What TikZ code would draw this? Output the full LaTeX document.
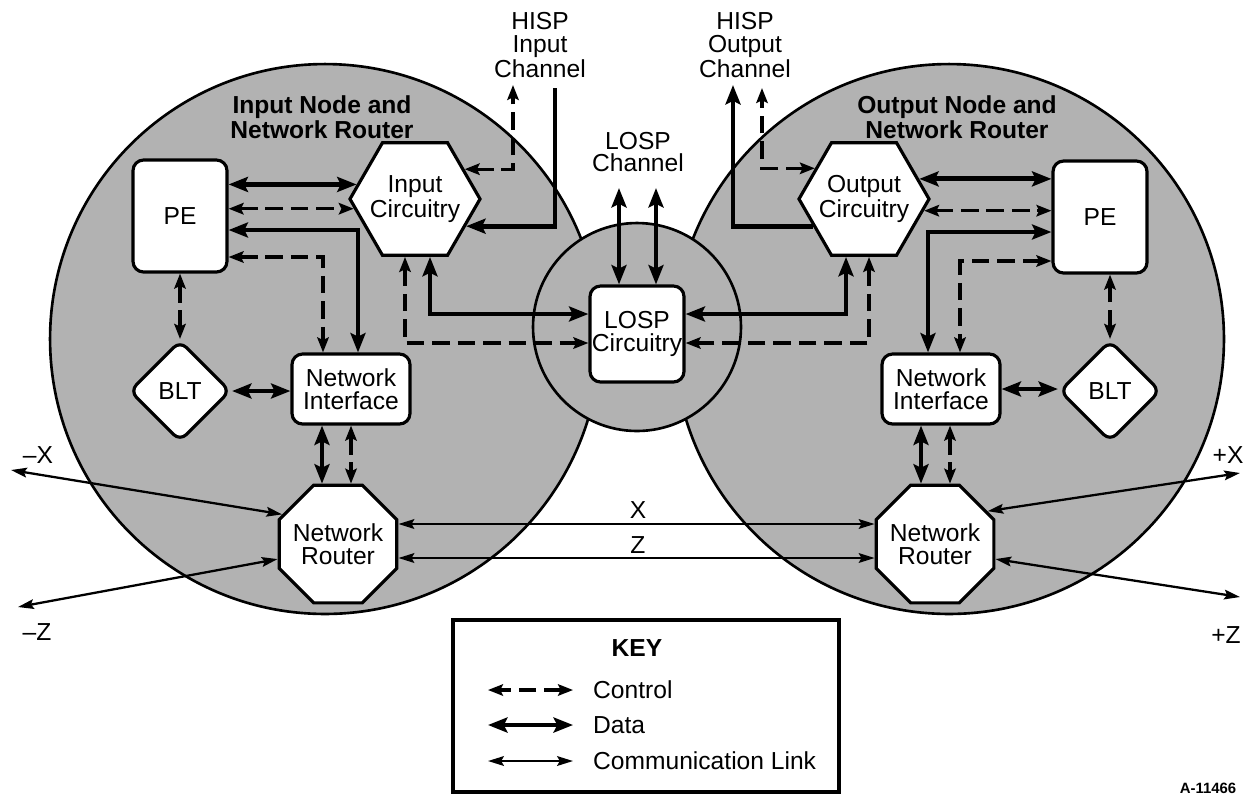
\documentclass[tikz,border=0pt]{standalone}
\usepackage{fontspec}
\setmainfont{Liberation Sans}
\usetikzlibrary{arrows.meta,calc,shapes.geometric}

\begin{document}
\begin{tikzpicture}[x=0.02cm, y=-0.02cm,
  every node/.style={font=\fontsize{14}{13}\selectfont, align=center},
  blk/.style={draw, fill=white, line width=1.8pt, inner sep=0pt},
  rbox/.style={blk, rectangle, rounded corners=6pt},
  pebox/.style={rbox, minimum width=1.88cm, minimum height=2.24cm},
  nibox/.style={rbox, minimum width=2.36cm, minimum height=1.4cm},
  hexbox/.style={blk, regular polygon, regular polygon sides=6, minimum size=2.3cm, inner sep=-3pt},
  octbox/.style={blk, regular polygon, regular polygon sides=8, minimum size=2.36cm, inner sep=-2pt},
  dmdbox/.style={blk, diamond, minimum size=2.02cm, rounded corners=5pt},
  zone/.style={draw, circle, line width=1.5pt, fill=black!30, inner sep=0pt},
  ttl/.style={font=\bfseries\fontsize{14}{14}\selectfont},
  datapath/.style={<->, >={Stealth[length=11pt,width=8.5pt,inset=2pt]}, line width=2.8pt},
  ctrlpath/.style={<->, >={Stealth[length=8.5pt,width=6.5pt,inset=1.5pt]}, line width=1.9pt, dash pattern=on 10pt off 4.5pt},
  commpath/.style={<->, >={Stealth[length=9pt,width=5.5pt,inset=1.5pt]}, line width=1.3pt}
]
\useasboundingbox (0,0) rectangle (1243,796);

% node areas
\node[zone, minimum size=11cm] (zoneL) at (325,339) {};
\node[zone, minimum size=11cm] (zoneR) at (949,339) {};
\node[zone, minimum size=4.16cm] (zoneC) at (637,327) {};

\node[ttl] (ttlL) at (322,117) {Input Node and\\Network Router};
\node[ttl] (ttlR) at (957,117) {Output Node and\\Network Router};

% input node
\node[pebox] (peL) at (180,216) {PE};
\node[hexbox] (incL) at (415,199) {Input\\Circuitry};
\node[dmdbox] (bltL) at (180,391) {BLT};
\node[nibox] (niL) at (351,389) {Network\\Interface};
\node[octbox] (nrL) at (338,544) {Network\\Router};

\node[rbox, minimum width=1.88cm, minimum height=1.92cm] (losp) at (637,334) {LOSP\\Circuitry};

% output node
\node[hexbox] (outR) at (864,199) {Output\\Circuitry};
\node[pebox] (peR) at (1100,217) {PE};
\node[dmdbox] (bltR) at (1110,391) {BLT};
\node[nibox] (niR) at (941,389) {Network\\Interface};
\node[octbox] (nrR) at (935,544) {Network\\Router};

% channels
\node (hispin) at (540,45) {HISP\\Input\\Channel};
\node (hispout) at (745,45) {HISP\\Output\\Channel};
\node (lospch) at (638,152) {LOSP\\Channel};
\coordinate (hinC) at (513,85);
\coordinate (hinD) at (555,88);
\coordinate (houtD) at (733,85);
\coordinate (houtC) at (762,88);
\coordinate (lospC) at (638,188);

\draw[ctrlpath] (incL.31) -| (hinC);
\draw[datapath, ->] (hinD) |- (incL.332);
\draw[datapath, ->] (outR.208) -| (houtD);
\draw[ctrlpath] (outR.148) -| (houtC);
\draw[datapath] ([xshift=-0.36cm]losp.north) -- ([xshift=-0.36cm]losp.north |- lospC);
\draw[datapath] ([xshift=0.38cm]losp.north) -- ([xshift=0.38cm]losp.north |- lospC);

% input node links
\draw[datapath] (peL.east |- incL.166) -- (incL.166);
\draw[ctrlpath] (peL.east |- incL.189) -- (incL.189);
\draw[datapath] ([yshift=-0.28cm]peL.east) -| ([xshift=0.14cm]niL.north);
\draw[ctrlpath] ([yshift=-0.82cm]peL.east) -| ([xshift=-0.56cm]niL.north);
\draw[ctrlpath] (peL.south) -- (bltL.north);
\draw[datapath] (bltL.east) -- (bltL.east -| niL.west);
\draw[datapath] ([xshift=-0.58cm]niL.south) -- ([xshift=-0.58cm]niL.south |- nrL.north);
\draw[ctrlpath] (niL.south) -- (niL.south |- nrL.north);
\draw[datapath] ([xshift=0.3cm]incL.south) |- ([yshift=0.4cm]losp.west);
\draw[ctrlpath] ([xshift=-0.2cm]incL.south) |- ([yshift=-0.18cm]losp.west);

% output node links
\draw[datapath] (outR.20) -- (outR.20 -| peR.west);
\draw[ctrlpath] (outR.349) -- (outR.349 -| peR.west);
\draw[datapath] ([yshift=-0.3cm]peR.west) -| ([xshift=-0.26cm]niR.north);
\draw[ctrlpath] ([yshift=-0.88cm]peR.west) -| ([xshift=0.38cm]niR.north);
\draw[ctrlpath] (bltR.north) -- (bltR.north |- peR.south);
\draw[datapath] (niR.east) -- (niR.east -| bltR.west);
\draw[datapath] ([xshift=-0.4cm]niR.south) -- ([xshift=-0.4cm]niR.south |- nrR.north);
\draw[ctrlpath] ([xshift=0.18cm]niR.south) -- ([xshift=0.18cm]niR.south |- nrR.north);
\draw[datapath] ([xshift=-0.36cm]outR.south) |- ([yshift=0.4cm]losp.east);
\draw[ctrlpath] ([xshift=0.1cm]outR.south) |- ([yshift=-0.18cm]losp.east);

% communication links
\coordinate (mX) at (11,470);
\coordinate (mZ) at (18,607);
\coordinate (pX) at (1240,473);
\coordinate (pZ) at (1240,597);
\draw[commpath] (mX) -- (nrL.152);
\draw[commpath] (mZ) -- (nrL.194);
\draw[commpath] (pX) -- (nrR.32);
\draw[commpath] (pZ) -- (nrR.346);
\draw[commpath] ([yshift=0.4cm]nrL.east) -- ([yshift=0.4cm]nrR.west);
\draw[commpath] ([yshift=-0.28cm]nrL.east) -- ([yshift=-0.28cm]nrR.west);

\node (mXl) at (38,455) {–X};
\node (mZl) at (37,632) {–Z};
\node (pXl) at (1228,455) {+X};
\node (pZl) at (1226,635) {+Z};
\node (xl) at (638,510) {X};
\node (zl) at (638,545) {Z};

% key
\node[draw, line width=1.8pt, minimum width=7.72cm, minimum height=3.44cm, inner sep=0pt] (key) at (646,706) {};
\node[ttl] (keyt) at (637,648) {KEY};
\node[anchor=west] (kctl) at (587,690) {Control};
\node[anchor=west] (kdat) at (587,725) {Data};
\node[anchor=west] (kcom) at (587,761) {Communication Link};
\draw[ctrlpath] ([xshift=-0.28cm]kctl.west) -- ++(-85,0);
\draw[datapath] ([xshift=-0.28cm]kdat.west) -- ++(-85,0);
\draw[commpath] ([xshift=-0.28cm]kcom.west) -- ++(-85,0);

\node[font=\bfseries\fontsize{8.5}{9}\selectfont] (fig) at (1208,788) {A-11466};

\end{tikzpicture}
\end{document}
